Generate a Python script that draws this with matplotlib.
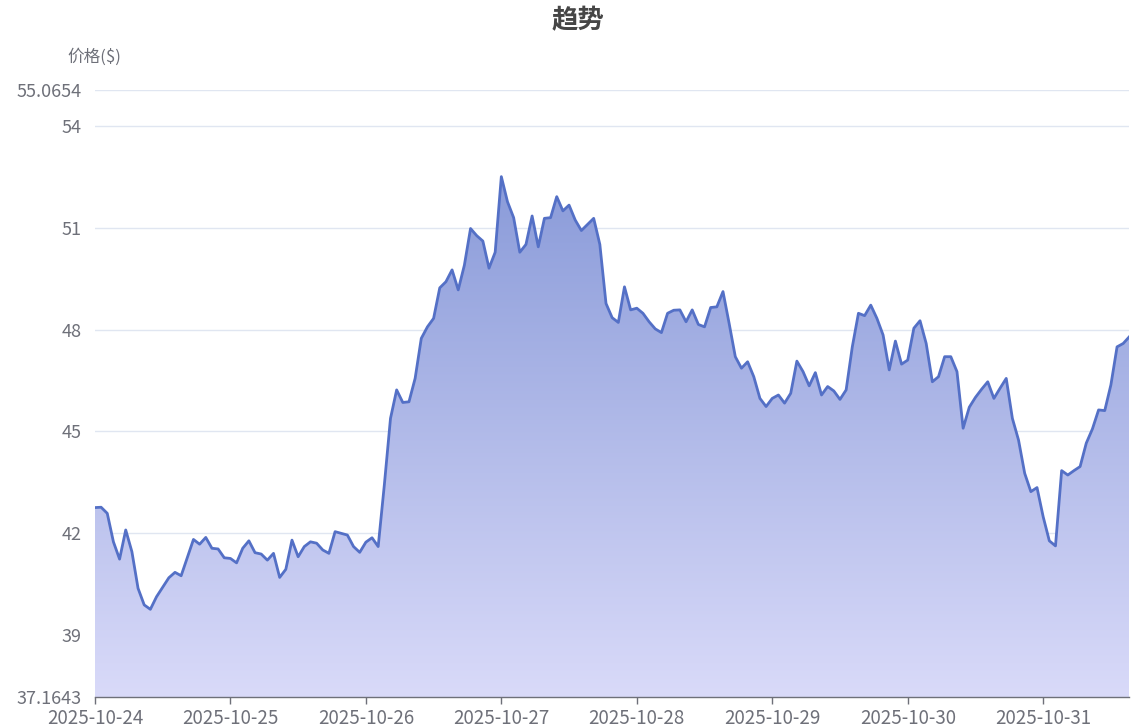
import numpy as np
import matplotlib
matplotlib.use('Agg')
import matplotlib.pyplot as plt
from matplotlib.colors import LinearSegmentedColormap

plt.rcParams['font.family'] = ['Noto Sans CJK SC', 'DejaVu Sans']

# ---------------------------------------------------------------------------
# Data
points_per_day = 22
day_labels = ['2025-10-24', '2025-10-25', '2025-10-26', '2025-10-27',
              '2025-10-28', '2025-10-29', '2025-10-30', '2025-10-31']
prices = [
    42.75, 42.76, 42.58, 41.74, 41.23, 42.09, 41.45, 40.37, 39.88, 39.75,
    40.12, 40.40, 40.68, 40.84, 40.74, 41.27, 41.81, 41.67, 41.87, 41.55,
    41.53, 41.27, 41.25, 41.12, 41.55, 41.77, 41.42, 41.38, 41.20, 41.40,
    40.69, 40.93, 41.79, 41.30, 41.60, 41.74, 41.70, 41.50, 41.40, 42.04,
    41.99, 41.94, 41.60, 41.43, 41.73, 41.86, 41.60, 43.42, 45.38, 46.22,
    45.85, 45.87, 46.56, 47.74, 48.08, 48.33, 49.23, 49.41, 49.76, 49.17,
    49.90, 50.98, 50.77, 50.61, 49.81, 50.28, 52.51, 51.77, 51.30, 50.28,
    50.51, 51.35, 50.44, 51.28, 51.30, 51.92, 51.50, 51.67, 51.23, 50.92,
    51.10, 51.28, 50.51, 48.77, 48.35, 48.21, 49.26, 48.58, 48.63, 48.48,
    48.23, 48.02, 47.91, 48.48, 48.57, 48.58, 48.23, 48.58, 48.15, 48.08,
    48.65, 48.67, 49.12, 48.18, 47.20, 46.86, 47.05, 46.61, 45.97, 45.73,
    45.97, 46.07, 45.83, 46.12, 47.07, 46.76, 46.34, 46.73, 46.07, 46.32,
    46.19, 45.94, 46.22, 47.49, 48.48, 48.41, 48.72, 48.33, 47.84, 46.81,
    47.66, 46.98, 47.10, 48.04, 48.26, 47.59, 46.46, 46.61, 47.20, 47.20,
    46.76, 45.09, 45.71, 46.00, 46.24, 46.46, 45.97, 46.27, 46.56, 45.38,
    44.74, 43.76, 43.22, 43.34, 42.48, 41.77, 41.62, 43.84, 43.71, 43.84,
    43.96, 44.65, 45.07, 45.63, 45.61, 46.37, 47.49, 47.59, 47.79]
y_min = 37.1643
y_max = 55.0654
y_ticks = [37.1643, 39, 42, 45, 48, 51, 54, 55.0654]
y_tick_labels = ['37.1643', '39', '42', '45', '48', '51', '54', '55.0654']

# ---------------------------------------------------------------------------
prices = np.array(prices)
x = np.arange(len(prices)) / points_per_day

fig = plt.figure(figsize=(11.33, 7.28), dpi=100)
ax = fig.add_axes([0.0838, 0.0426, 0.9130, 0.8338])
ax.set_xlim(0, x[-1])
ax.set_ylim(y_min, y_max)

# Horizontal grid lines
for t in y_ticks[1:]:
    ax.axhline(t, color='#E0E6F1', linewidth=1, zorder=0)

# Gradient area under the line
poly = ax.fill_between(x, prices, y_min, facecolor='none', edgecolor='none')
cmap = LinearSegmentedColormap.from_list('area', ['#8a9bd9', '#d9daf9'])
grad = np.linspace(0, 1, 256).reshape(-1, 1)
im = ax.imshow(grad, cmap=cmap, aspect='auto', origin='upper',
               extent=[x[0], x[-1], y_min, prices.max()], zorder=1)
im.set_clip_path(poly.get_paths()[0], transform=ax.transData)

# The line
ax.plot(x, prices, color='#5470c6', linewidth=2, zorder=3, solid_joinstyle='round')

# Axes styling
for side in ['top', 'right', 'left']:
    ax.spines[side].set_visible(False)
ax.spines['bottom'].set_color('#6E7079')
ax.spines['bottom'].set_linewidth(1)
ax.spines['bottom'].set_zorder(4)

ax.set_xticks(np.arange(len(day_labels)))
ax.set_xticklabels(day_labels)
ax.tick_params(axis='x', colors='#6E7079', labelcolor='#6E7079', length=5,
               width=1, direction='out', pad=3, labelsize=13.5)
ax.set_yticks(y_ticks)
ax.set_yticklabels(y_tick_labels)
ax.tick_params(axis='y', length=0, pad=9.5, labelcolor='#6E7079', labelsize=13)

# Titles
fig.text(0.510, 0.972, '趋势', ha='center', va='center', fontsize=19,
         fontweight='bold', color='#464646')
fig.text(94 / 1133, 1 - 57 / 728, '价格($)', ha='center', va='center',
         fontsize=12, color='#6E7079')

plt.savefig('out.png', dpi=100)
